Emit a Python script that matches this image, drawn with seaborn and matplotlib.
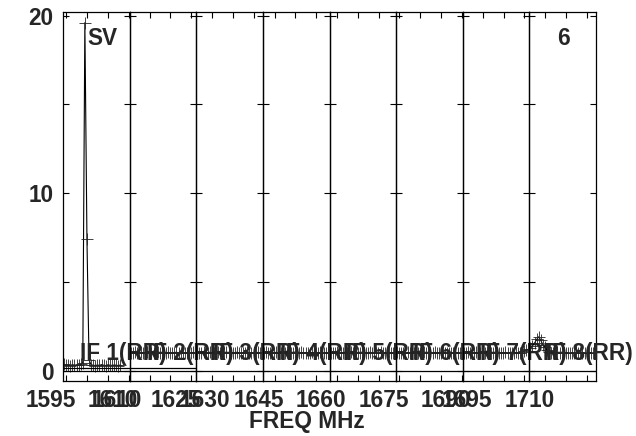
import matplotlib
matplotlib.use("Agg")
import matplotlib.pyplot as plt
import matplotlib.transforms as mtransforms
import seaborn as sns
import numpy as np
import pandas as pd
from matplotlib.ticker import MultipleLocator, FixedLocator, NullFormatter

# ---------------- data ----------------
if_names = ["IF 1(RR)", "IF 2(RR)", "IF 3(RR)", "IF 4(RR)",
            "IF 5(RR)", "IF 6(RR)", "IF 7(RR)", "IF 8(RR)"]
if_start_mhz = [1599.2, 1615.2, 1631.2, 1647.2, 1663.2, 1679.2, 1695.2, 1711.2]
if_bw_mhz = 16.0
chan_width_mhz = 0.5

amp_if1 = [0.35, 0.30, 0.32, 0.28, 0.33, 0.30, 0.29, 0.31, 0.34, 0.45, 19.6, 7.4,
           0.60, 0.32, 0.30, 0.28, 0.31, 0.29, 0.33, 0.30, 0.28, 0.32, 0.30, 0.29,
           0.31, 0.30, 0.28, 0.31]
amp_if2 = [1.00, 0.98, 1.02, 0.99, 1.01, 1.03, 0.97, 1.00, 1.02, 0.99, 1.01, 0.98,
           1.00, 1.03, 0.99, 1.01, 1.00, 0.98, 1.02, 1.00, 0.99, 1.01, 1.03, 0.98,
           1.00, 1.02, 0.99, 1.01, 0.98, 1.00, 1.02, 0.99]
amp_if3 = [1.01, 0.99, 1.00, 1.02, 0.98, 1.01, 1.03, 0.99, 1.00, 0.98, 1.02, 1.01,
           0.99, 1.00, 1.02, 0.98, 1.01, 1.00, 0.99, 1.03, 1.00, 0.98, 1.01, 1.00,
           1.02, 0.99, 1.01, 0.98, 1.00, 1.02, 0.99, 1.01]
amp_if4 = [0.99, 1.02, 1.00, 0.98, 1.01, 1.00, 1.03, 0.99, 1.01, 1.00, 0.98, 1.02,
           1.00, 0.99, 1.01, 1.03, 0.98, 1.00, 1.02, 0.99, 1.01, 1.00, 0.98, 1.02,
           1.00, 1.01, 0.99, 1.02, 1.00, 0.98, 1.01, 1.00]
amp_if5 = [1.00, 1.01, 0.99, 1.02, 1.00, 0.98, 1.01, 1.03, 0.99, 1.00, 1.02, 0.98,
           1.01, 1.00, 0.99, 1.02, 1.01, 0.98, 1.00, 1.03, 0.99, 1.01, 1.00, 0.98,
           1.02, 1.00, 0.99, 1.01, 1.02, 0.99, 1.00, 1.01]
amp_if6 = [1.02, 0.99, 1.01, 1.00, 0.98, 1.02, 1.00, 1.01, 0.99, 1.03, 1.00, 0.98,
           1.01, 1.02, 0.99, 1.00, 1.01, 0.98, 1.02, 1.00, 0.99, 1.01, 1.03, 1.00,
           0.98, 1.01, 1.00, 0.99, 1.02, 1.00, 0.98, 1.01]
amp_if7 = [1.00, 0.98, 1.02, 1.01, 0.99, 1.00, 1.02, 0.98, 1.01, 1.00, 0.99, 1.03,
           1.00, 1.01, 0.98, 1.02, 1.00, 0.99, 1.01, 1.00, 1.02, 0.98, 1.01, 1.00,
           0.99, 1.02, 1.00, 1.01, 1.05, 1.10, 1.15, 1.20]
amp_if8 = [1.25, 1.40, 1.55, 1.75, 1.90, 1.70, 1.45, 1.30, 1.15, 1.05, 1.00, 0.98,
           1.01, 0.99, 1.00, 1.02, 0.98, 1.00, 1.01, 0.99, 1.00, 0.98, 1.02, 1.00,
           0.99, 1.01, 1.00, 0.98, 1.00, 1.01, 0.99, 1.00]
amps = [amp_if1, amp_if2, amp_if3, amp_if4, amp_if5, amp_if6, amp_if7, amp_if8]

# tick labels drawn under the IF boxes: (IF index, frequency)
xlabel_if = [0, 0, 1, 1, 1, 2, 3, 4, 5, 5, 6]
xlabel_freq = [1595, 1610, 1610, 1625, 1630, 1645, 1660, 1675, 1690, 1695, 1710]

# reference levels drawn as horizontal lines
ref_level_all = 0.0
ref_level_if12 = 0.15

source_label = "SV"
baseline_label = "6"
y_major = [0, 10, 20]
y_minor = [5, 15]

# ---------------- style ----------------
sns.set_theme(style="white")
plt.rcParams['font.family'] = ['Liberation Sans', 'DejaVu Sans']
plt.rcParams['font.weight'] = 'bold'
FS = 16.3

W, H = 636, 436
fig = plt.figure(figsize=(W / 100, H / 100), dpi=100)
fig.patch.set_facecolor("white")
left, right, bottom, top = 63 / W, 596 / W, (H - 381) / H, (H - 12) / H
pw = (right - left) / 8

frames = []
for i in range(8):
    nch = len(amps[i])
    freq = [if_start_mhz[i] + chan_width_mhz * (k + 0.5) for k in range(nch)]
    frames.append(pd.DataFrame({"freq": freq, "amp": amps[i], "IF": if_names[i]}))
data = pd.concat(frames, ignore_index=True)

axes = []
for i in range(8):
    ax = fig.add_axes([left + i * pw, bottom, pw, top - bottom])
    ax.patch.set_visible(False)
    sub = data[data["IF"] == if_names[i]]
    sns.lineplot(data=sub, x="freq", y="amp", ax=ax, color="black", lw=0.8,
                 marker="+", markersize=9, markeredgecolor="#222222",
                 markeredgewidth=0.6, estimator=None, sort=False)
    ax.axhline(ref_level_all, color="black", lw=0.9)
    if i < 2:
        ax.axhline(ref_level_if12, color="black", lw=0.9)
    ax.set_xlim(if_start_mhz[i], if_start_mhz[i] + if_bw_mhz)
    ax.set_ylim(-0.59, 20.2)
    ax.xaxis.set_major_locator(MultipleLocator(5))
    ax.xaxis.set_major_formatter(NullFormatter())
    ax.yaxis.set_major_locator(FixedLocator(y_major))
    ax.yaxis.set_minor_locator(FixedLocator(y_minor))
    ax.tick_params(axis="both", which="both", direction="in", top=True, right=True,
                   bottom=True, left=True, length=4.5, width=0.8, color="black",
                   labelbottom=False, labelleft=(i == 0), labelsize=FS, pad=7)
    for s in ax.spines.values():
        s.set_color("black")
        s.set_linewidth(0.9)
    ax.set_xlabel("")
    ax.set_ylabel("")
    if ax.get_legend():
        ax.get_legend().remove()
    ax.text(0.255, 0.057, if_names[i], transform=ax.transAxes, fontsize=FS,
            fontweight="bold", ha="left", va="baseline", clip_on=False, zorder=5)
    axes.append(ax)

for lab in axes[0].get_yticklabels():
    lab.set_fontweight("bold")

# small pixel nudges that reproduce how the per-IF labels collide
label_nudge = {(1, 1610): 9, (1, 1630): 14}
for idx, f in zip(xlabel_if, xlabel_freq):
    ax = axes[idx]
    tr = mtransforms.offset_copy(ax.get_xaxis_transform(), fig=fig,
                                 x=label_nudge.get((idx, f), 5), y=0,
                                 units="dots")
    ax.text(f, -19 / 369, str(f), transform=tr,
            fontsize=FS, fontweight="bold", ha="center", va="center", clip_on=False)

axes[0].text(0.36, 0.91, source_label, transform=axes[0].transAxes, fontsize=FS,
             fontweight="bold", ha="left", va="baseline")
axes[7].text(0.42, 0.91, baseline_label, transform=axes[7].transAxes, fontsize=FS,
             fontweight="bold", ha="left", va="baseline")

fig.text(307 / W, (H - 421) / H, "FREQ MHz", fontsize=FS, fontweight="bold",
         ha="center", va="center")

fig.savefig("out.png", dpi=100, facecolor="white")
